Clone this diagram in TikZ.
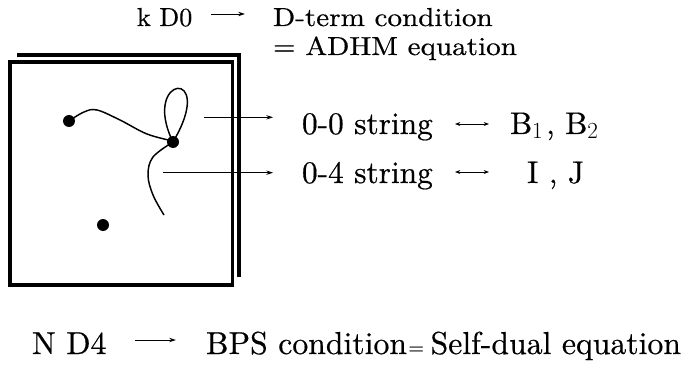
\documentclass[tikz,border=0pt]{standalone}
\usepackage{fontspec}
\setmainfont{lmroman10-regular.otf}[FakeBold=0.5]
\usetikzlibrary{arrows.meta}
\newcommand{\topfont}{\fontsize{19.5}{23}\selectfont}
\newcommand{\midfont}{\fontsize{23.5}{27}\selectfont}
\newcommand{\botfont}{\fontsize{23.8}{28}\selectfont}
\newcommand{\wide}[1]{\scalebox{1.12}[1]{#1}}
\begin{document}
\begin{tikzpicture}[x=0.75pt,y=-0.75pt,
  dot/.style={circle,fill=black,inner sep=0pt,minimum size=9pt},
  txt/.style={anchor=base west,inner sep=0pt,outer sep=0pt},
  plate/.style={line width=2.3pt},
  strng/.style={line width=1.1pt},
  arr/.style={line width=0.7pt,-{Stealth[length=5pt,width=3.2pt]}},
  darr/.style={line width=0.7pt,{Stealth[length=4pt,width=3pt]}-{Stealth[length=4pt,width=3pt]}}]
\useasboundingbox (0,0) rectangle (685,367);
% D4 plates
\draw[plate] (17,55) -- (239,55) -- (239,277);
\draw[plate,fill=white] (10,62) rectangle (232.5,285);
% D0 dots
\node[dot] (d1) at (69,121) {};
\node[dot] (d2) at (173,142) {};
\node[dot] (d3) at (103,225) {};
% 0-0 string between d1 and d2
\draw[strng] plot[smooth,tension=0.6] coordinates {(d1.center) (84,112) (97,110) (120,120) (147,134) (173,141)};
% 0-0 loop on d2
\draw[strng] (d2.center) .. controls (140,75) and (218,66) .. (d2.center);
% 0-4 string from d2
\coordinate (send) at (164,215);
\draw[strng] plot[smooth,tension=0.6] coordinates {(d2.center) (153,157) (148,175) (153,195) (send)};
% labels
\node[txt] (kd0) at (137,26) {\topfont k D0};
\node[txt] (dterm) at (273,26) {\topfont\wide{D-term condition}};
\node[txt] (adhm) at (273,55) {\topfont\wide{= ADHM equation}};
\node[txt] (s00) at (302,134) {\midfont 0-0 string};
\node[txt] (bb) at (510,134) {\midfont B$_1$\kern2pt, B$_2$};
\node[txt] (s04) at (302,183) {\midfont 0-4 string};
\node[txt] (ij) at (527,183) {\midfont I , J};
\node[txt] (nd4) at (32,354) {\botfont N D4};
\node[txt] (bps) at (206,354) {\botfont BPS condition\kern1pt{\fontsize{15}{15}\selectfont=}\kern5pt Self-dual equation};
% arrows
\coordinate (a1s) at (211,14); \coordinate (a1e) at (245,14);
\draw[arr] (a1s) -- (a1e);
\coordinate (a2s) at (204,117.3); \coordinate (a2e) at (273,117.3);
\draw[arr] (a2s) -- (a2e);
\coordinate (a3s) at (162.7,172.7); \coordinate (a3e) at (273,172.7);
\draw[arr] (a3s) -- (a3e);
\coordinate (a4s) at (135,340); \coordinate (a4e) at (176,340);
\draw[arr] (a4s) -- (a4e);
\coordinate (b1s) at (455,124); \coordinate (b1e) at (489,124);
\draw[darr] (b1s) -- (b1e);
\coordinate (b2s) at (455,172); \coordinate (b2e) at (489,172);
\draw[darr] (b2s) -- (b2e);
\end{tikzpicture}
\end{document}
